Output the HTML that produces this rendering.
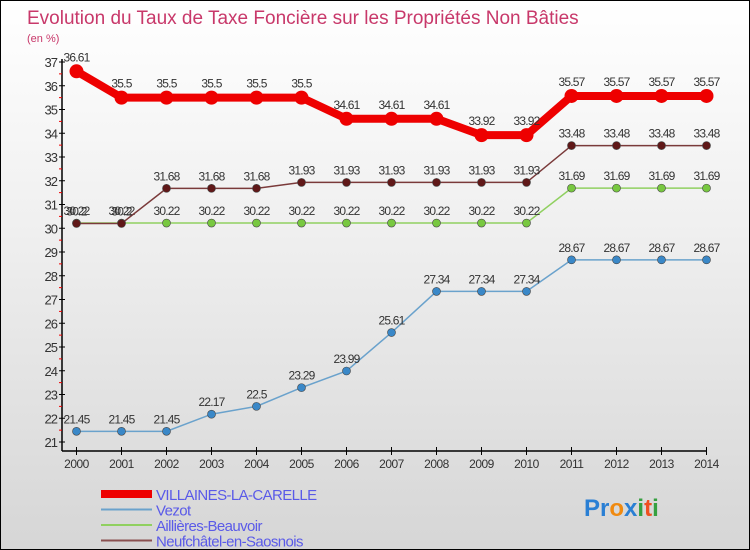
<!DOCTYPE html>
<html><head><meta charset="utf-8"><style>
body{margin:0}
#wrap{position:relative;width:748px;height:548px;border:1px solid #000;background:linear-gradient(#ffffff,#f0f0f0 40%,#d6d6d6);font-family:"Liberation Sans",sans-serif;overflow:hidden}
svg{position:absolute;left:0;top:0}
</style></head><body>
<div id="wrap">
<svg id="svg" width="748" height="548">
<text x="26" y="23" font-size="19" fill="#c8386a">Evolution du Taux de Taxe Foncière sur les Propriétés Non Bâties</text>
<text x="26" y="41" font-size="11" fill="#c8386a">(en %)</text>
<g id="axes"></g><g id="series"></g><g id="legend"></g>
<text x="583" y="515" font-size="24" font-weight="bold" font-family="Liberation Sans, sans-serif"><tspan fill="#2a7fd4">Pr</tspan><tspan fill="#f08a10">o</tspan><tspan fill="#2a7fd4">x</tspan><tspan fill="#36a040">i</tspan><tspan fill="#f05020">t</tspan><tspan fill="#36a040">i</tspan></text>
</svg>
</div>
<script>
const years=[2000,2001,2002,2003,2004,2005,2006,2007,2008,2009,2010,2011,2012,2013,2014];
const villaines=[36.61,35.5,35.5,35.5,35.5,35.5,34.61,34.61,34.61,33.92,33.92,35.57,35.57,35.57,35.57];
const vezot=[21.45,21.45,21.45,22.17,22.5,23.29,23.99,25.61,27.34,27.34,27.34,28.67,28.67,28.67,28.67];
const aillieres=[30.22,30.22,30.22,30.22,30.22,30.22,30.22,30.22,30.22,30.22,30.22,31.69,31.69,31.69,31.69];
const neufchatel=[30.2,30.2,31.68,31.68,31.68,31.93,31.93,31.93,31.93,31.93,31.93,33.48,33.48,33.48,33.48];
const yTicks=[21,22,23,24,25,26,27,28,29,30,31,32,33,34,35,36,37];
const seriesNames=["VILLAINES-LA-CARELLE","Vezot","Aillières-Beauvoir","Neufchâtel-en-Saosnois"];
const NS="http://www.w3.org/2000/svg";
const x=i=>75.5+i*45, y=v=>441-(v-21)*23.75;
function mk(tag,attrs,parent,txt){const e=document.createElementNS(NS,tag);for(const k in attrs)e.setAttribute(k,attrs[k]);if(txt!==undefined)e.textContent=txt;parent.appendChild(e);return e;}
const ax=document.getElementById('axes');
let e=mk('line',{x1:61,y1:58,x2:61,y2:450,stroke:'#000','stroke-width':1.5},ax);


e=mk('line',{x1:61,y1:450,x2:706,y2:450,stroke:'#000','stroke-width':1.5},ax);


yTicks.forEach(t=>{mk('line',{x1:58,x2:64,y1:y(t),y2:y(t),stroke:'#000'},ax);
 if(t<37)mk('line',{x1:58,x2:61,y1:y(t+0.5),y2:y(t+0.5),stroke:'#e00'},ax);
 e=mk('text',{x:56,y:y(t)+5,'text-anchor':'end','font-size':13,fill:'#333','letter-spacing':'-1'},ax,String(t));
 
 });
years.forEach((yr,i)=>{mk('line',{x1:x(i),x2:x(i),y1:446,y2:454,stroke:'#000'},ax);
 e=mk('text',{x:x(i),y:467,'text-anchor':'middle','font-size':12,fill:'#333','letter-spacing':'-0.5'},ax,String(yr));
 
 });
const sg=document.getElementById('series');
const defs=[[vezot,'#6aa2cc',1.5,'#3a88c8',4,'vezot'],[aillieres,'#90d060',1.5,'#78c840',4,'aillieres'],[neufchatel,'#7a3a3a',1.5,'#601818',4,'neufchatel'],[villaines,'#ee0000',8,'#ee0000',7,'villaines']];
defs.forEach(([d,c,w,mc,r,n])=>{
 const g=mk('g',{},sg);
 
 
 const l=mk('polyline',{points:d.map((v,i)=>x(i)+','+y(v)).join(' '),fill:'none',stroke:c,'stroke-width':w},g);
 
 
 d.forEach((v,i)=>{const p=mk('circle',{cx:x(i),cy:y(v),r:r,fill:mc,stroke:'#444','stroke-width':r>5?0:0.6},g);
  
  
  const t=mk('text',{x:x(i),y:y(v)-(r>5?10:8),'text-anchor':'middle','font-size':12,fill:'#333','letter-spacing':'-0.8'},g,String(v));
  
  });
});
const lg=document.getElementById('legend');
const lc=[['#ee0000',8],['#6aa2cc',2],['#90d060',2],['#8a5050',2]];
seriesNames.forEach((s,i)=>{const yy=493+i*15.5;
 const g=mk('g',{},lg);
 
 
 mk('line',{x1:100,x2:151,y1:yy,y2:yy,stroke:lc[i][0],'stroke-width':lc[i][1]},g);
 mk('text',{x:155,y:yy+6,'font-size':15,fill:'#5a5ae8','letter-spacing':'-0.6'},g,s);});
</script>
</body></html>
